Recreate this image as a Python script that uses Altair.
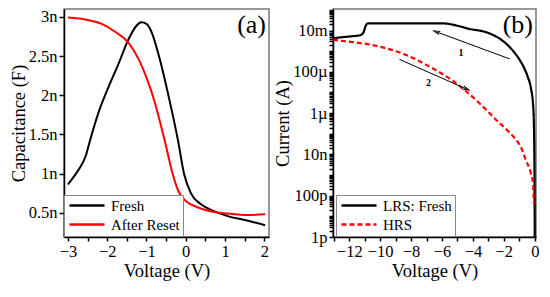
import altair as alt
import pandas as pd

FONT = "Liberation Serif"

# ---------------- Panel (a): C-V ----------------
fresh_v = [-3.0, -2.85, -2.7, -2.55, -2.45, -2.22, -1.97, -1.72, -1.46, -1.25, -1.13, -1.0,
           -0.85, -0.71, -0.42, -0.2, -0.04, 0.13, 0.38, 0.72, 1.05, 1.56, 2.02]
fresh_c = [0.86, 0.96, 1.07, 1.22, 1.4, 1.78, 2.1, 2.39, 2.71, 2.89, 2.93, 2.91,
           2.78, 2.55, 1.95, 1.43, 0.99, 0.75, 0.61, 0.52, 0.46, 0.40, 0.34]
reset_v = [-3.0, -2.5, -2.14, -1.8, -1.46, -1.21, -0.96, -0.8, -0.54, -0.33, -0.2, -0.04,
           0.3, 0.72, 1.05, 1.56, 2.02]
reset_c = [2.99, 2.96, 2.91, 2.81, 2.67, 2.47, 2.17, 1.93, 1.43, 0.99, 0.79, 0.67,
           0.57, 0.51, 0.49, 0.47, 0.48]
cv_series = ["Fresh", "After Reset"]
cv_colors = ["black", "red"]

# ---------------- Panel (b): I-V ----------------
lrs_v = [-13.05, -12.5, -11.9, -11.3, -11.1, -10.9, -10.8, -5.9, -5.0, -4.24, -3.2, -2.6,
         -2.15, -1.7, -1.31, -0.95, -0.68, -0.45, -0.26, -0.1, -0.03, -0.01, 0.0]
lrs_i = [4.2e-3, 4.7e-3, 5.2e-3, 5.9e-3, 7.6e-3, 1.9e-2, 2.2e-2, 2.2e-2, 1.7e-2, 1.2e-2,
         8.5e-3, 5.6e-3, 3.5e-3, 1.8e-3, 8.5e-4, 3.5e-4, 1.5e-4, 5.6e-5, 1.8e-5, 2.1e-6,
         2.2e-8, 1e-10, 1e-12]
hrs_v = [-13.05, -11.8, -10.53, -9.5, -8.44, -7.6, -6.76, -5.29, -3.82, -3.2, -2.56, -1.9,
         -1.31, -0.89, -0.58, -0.26, -0.1, -0.06, -0.03]
hrs_i = [3.5e-3, 2.75e-3, 2.0e-3, 1.3e-3, 7.1e-4, 3.7e-4, 1.7e-4, 3.6e-5, 4.4e-6, 1.6e-6,
         5.2e-7, 1.8e-7, 6.3e-8, 2.2e-8, 5.4e-9, 1.3e-9, 3.2e-10, 5.5e-11, 4.0e-11]
iv_series = ["LRS: Fresh", "HRS"]
iv_colors = ["black", "red"]

arrow_tail_v = [-1.62, -8.75]
arrow_tail_i = [4.2e-4, 4.0e-4]
arrow_head_v = [-6.34, -4.45]
arrow_head_i = [8.5e-3, 1.5e-5]
arrow_angle = [291, 114]
arrow_label = ["1", "2"]
label_v = [-4.77, -6.87]
label_i = [8.5e-4, 3.0e-5]

cv_df = pd.concat([
    pd.DataFrame({"V": fresh_v, "C": fresh_c, "s": "Fresh", "o": range(len(fresh_v))}),
    pd.DataFrame({"V": reset_v, "C": reset_c, "s": "After Reset", "o": range(len(reset_v))}),
])
iv_df = pd.concat([
    pd.DataFrame({"V": lrs_v, "I": lrs_i, "s": "LRS: Fresh", "o": range(len(lrs_v))}),
    pd.DataFrame({"V": hrs_v, "I": hrs_i, "s": "HRS", "o": range(len(hrs_v))}),
])
shaft_df = pd.DataFrame({"V": arrow_tail_v, "I": arrow_tail_i,
                         "V2": arrow_head_v, "I2": arrow_head_i})
head_df = pd.DataFrame({"V": arrow_head_v, "I": arrow_head_i, "ang": arrow_angle})
lab_df = pd.DataFrame({"V": label_v, "I": label_i, "t": arrow_label})

W1, W2, H = 205, 203, 228

axis_common = dict(labelFont=FONT, titleFont=FONT, titleFontSize=18.5,
                   titleFontWeight="normal", labelColor="black", titleColor="black",
                   domainColor="black", domainWidth=1.5, tickColor="black", tickWidth=1.5,
                   grid=False, labelOverlap=False, labelFlush=False)

legend_common = dict(orient="none", title=None, labelFont=FONT, labelFontSize=15,
                     labelColor="black", symbolType="M -1 0 L 6 0", symbolSize=100,
                     symbolStrokeWidth=2.5, strokeColor="#888", fillColor="white",
                     padding=3, rowPadding=3, labelOffset=29, cornerRadius=0)

# ----- left panel -----
xa = alt.X("V:Q", scale=alt.Scale(domain=[-3.1, 2.12], nice=False, zero=False),
           axis=alt.Axis(title="Voltage (V)",
                         values=[-3, -2.5, -2, -1.5, -1, -0.5, 0, 0.5, 1, 1.5, 2],
                         labelExpr="abs(datum.value - round(datum.value)) < 0.01 ? format(datum.value, 'd') : ''",
                         labelFontSize=16.5, tickSize=4, labelPadding=2, titlePadding=2,
                         **axis_common))
ya = alt.Y("C:Q", scale=alt.Scale(domain=[0.19, 3.1], nice=False, zero=False),
           axis=alt.Axis(title="Capacitance (F)", values=[0.5, 1, 1.5, 2, 2.5, 3],
                         labelExpr="datum.value + 'n'", labelFontSize=16.5, tickSize=5,
                         labelPadding=2, titlePadding=0, **axis_common))

cv_lines = alt.Chart(cv_df).mark_line(strokeWidth=2, interpolate="monotone", clip=True).encode(
    x=xa, y=ya, order="o:Q",
    color=alt.Color("s:N", scale=alt.Scale(domain=cv_series, range=cv_colors),
                    legend=alt.Legend(legendX=0, legendY=H - 42, **legend_common)),
)
tag_a = alt.Chart(pd.DataFrame({"t": ["(a)"]})).mark_text(
    font=FONT, fontSize=26, align="right", baseline="alphabetic", color="black"
).encode(text="t:N", x=alt.value(W1 - 3), y=alt.value(24))
left = alt.layer(cv_lines, tag_a).properties(width=W1, height=H)

# ----- right panel -----
yticks = []
for e in range(-12, 0):
    for m in range(1, 10):
        v = m * 10.0 ** e
        if v <= 0.11:
            yticks.append(float(f"{v:.3g}"))
names = {-2: "10m", -4: "100µ", -6: "1µ", -8: "10n", -10: "100p", -12: "1p"}
L = "(log(datum.value)/LN10)"
lab_expr = " : ".join(f"abs({L} - ({k})) < 0.001 ? '{v}'" for k, v in names.items()) + " : ''"
labeled_test = f"abs({L} - round({L})) < 0.001 && round({L}) % 2 === 0"

xb = alt.X("V:Q", scale=alt.Scale(domain=[-13.05, 0.08], nice=False, zero=False),
           axis=alt.Axis(title="Voltage (V)", values=list(range(-13, 1)),
                         labelExpr="abs(datum.value / 2 - round(datum.value / 2)) < 0.01 ? format(datum.value, 'd') : ''",
                         labelFontSize=16.5, tickSize=4, labelPadding=2, titlePadding=2,
                         **axis_common))
yb = alt.Y("I:Q", scale=alt.Scale(type="log", domain=[1e-12, 0.11], nice=False),
           axis=alt.Axis(title="Current (A)", values=yticks, labelExpr=lab_expr,
                         labelFontSize={"condition": {"test": labeled_test, "value": 16.5},
                                        "value": 0},
                         tickSize=4, labelPadding=2, titlePadding=0, **axis_common))

iv_lines = alt.Chart(iv_df).mark_line(strokeWidth=2.2, interpolate="monotone", clip=True).encode(
    x=xb, y=yb, order="o:Q",
    color=alt.Color("s:N", scale=alt.Scale(domain=iv_series, range=iv_colors),
                    legend=alt.Legend(legendX=3, legendY=H - 42, **legend_common)),
    strokeDash=alt.StrokeDash("s:N", scale=alt.Scale(domain=iv_series, range=[[1, 0], [5, 3]]),
                              legend=alt.Legend(legendX=3, legendY=H - 42, **legend_common)),
)
arr_lines = alt.Chart(shaft_df).mark_rule(color="black", strokeWidth=1).encode(
    x=xb, y=yb, x2="V2:Q", y2="I2:Q")
arr_heads = alt.Chart(head_df).mark_point(
    shape="M -0.55 1 L 0 -1 L 0.55 1", filled=False, color="black", strokeWidth=1,
    size=40, opacity=1
).encode(x=xb, y=yb, angle=alt.Angle("ang:Q", scale=None))
arr_text = alt.Chart(lab_df).mark_text(font=FONT, fontSize=10, fontWeight="bold",
                                       color="black").encode(x=xb, y=yb, text="t:N")
tag_b = alt.Chart(pd.DataFrame({"t": ["(b)"]})).mark_text(
    font=FONT, fontSize=26, align="right", baseline="alphabetic", color="black"
).encode(text="t:N", x=alt.value(W2 - 3), y=alt.value(24))
right = alt.layer(iv_lines, arr_lines, arr_heads, arr_text, tag_b).properties(width=W2, height=H)

chart = alt.hconcat(left, right, spacing=2).resolve_scale(
    color="independent", strokeDash="independent"
).resolve_legend(
    color="independent", strokeDash="independent"
).properties(
    padding={"left": 0, "top": 0, "right": 0, "bottom": 0}, background="white"
).configure_view(stroke="#777", strokeWidth=1.5).configure_axis(
    labelFont=FONT, titleFont=FONT
).configure_legend(labelFont=FONT)

chart.save("out.html", embed_options={"renderer": "svg", "actions": False})
